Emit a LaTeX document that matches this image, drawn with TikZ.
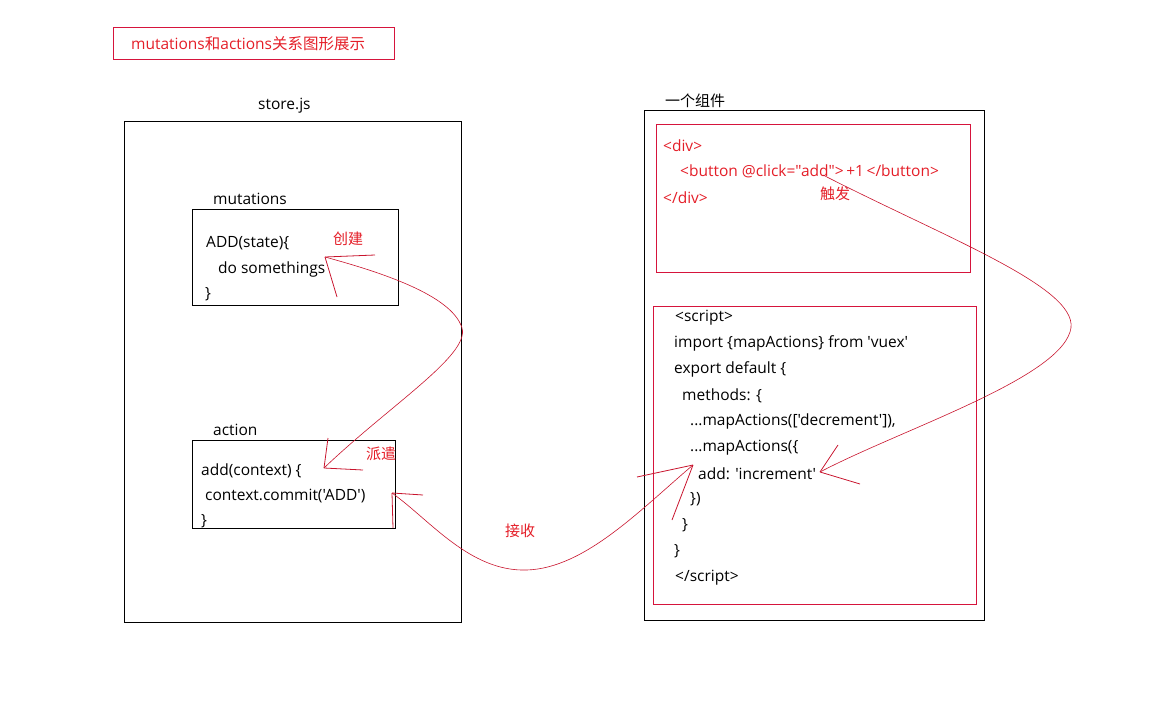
\documentclass[tikz,border=0pt]{standalone}
\usepackage{fontspec}
\newfontfamily\latin{Open Sans}
\newfontfamily\cjk{Noto Sans CJK SC}
\definecolor{txtred}{RGB}{228,30,40}
\definecolor{boxred}{RGB}{214,20,60}
\definecolor{linered}{RGB}{200,20,45}
\begin{document}
\begin{tikzpicture}[x=1pt,y=-1pt,
  txt/.style={anchor=west,inner sep=0pt,yshift=-1.5pt,font=\latin\fontsize{15.5}{18}\selectfont,text=black},
  rtxt/.style={txt,text=txtred},
  ctxt/.style={anchor=west,inner sep=0pt,yshift=-1pt,font=\cjk\fontsize{15}{18}\selectfont,text=txtred},
  blackbox/.style={draw=black,line width=0.8pt},
  redbox/.style={draw=boxred,line width=0.8pt},
  curve/.style={draw=linered,line width=0.6pt},
  tipline/.style={draw=linered,line width=0.8pt}]
\useasboundingbox (0,0) rectangle (1152,720);
% title
\draw[redbox] (113,27) rectangle (394,59);
\node[rtxt] (title) at (131,42) {mutations{\cjk 和}actions{\cjk 关系图形展示}};
% left store box
\node[txt] (store) at (258,104) {store.js};
\draw[blackbox] (124,121) rectangle (461,622);
\node[txt] (mutl) at (213,197) {mutations};
\draw[blackbox] (192,209) rectangle (398,305);
\node[txt] (m1) at (206,242) {ADD(state)\{};
\node[txt] (m2) at (218,268) {do somethings};
\node[txt] (m3) at (205,293) {\}};
\node[ctxt] (chuangjian) at (333,238) {创建};
\node[txt] (actl) at (213,428) {action};
\draw[blackbox] (192,440) rectangle (395,528);
\node[txt] (a1) at (201,469) {add(context) \{};
\node[txt] (a2) at (205,495) {context.commit('ADD')};
\node[txt] (a3) at (201,520) {\}};
\node[ctxt] (paiqian) at (366,453) {派遣};
\node[ctxt] (jieshou) at (505,530) {接收};
% right component box
\node[ctxt,text=black] (comp) at (665,100) {一个组件};
\draw[blackbox] (644,110) rectangle (984,620);
\draw[redbox] (656,124) rectangle (970,272);
\node[rtxt] (d1) at (663,144) {<div>};
\node[rtxt] (d2) at (680,170) {<button @click="add">\,+1\,</button>};
\node[rtxt] (d3) at (663,196) {</div>};
\node[ctxt] (chufa) at (820,193) {触发};
\draw[redbox] (653,306) rectangle (976,604);
\node[txt] (s1) at (675,316) {<script>};
\node[txt] (s2) at (674,342) {import \{mapActions\} from 'vuex'};
\node[txt] (s3) at (674,368) {export default \{};
\node[txt] (s4) at (682,394) {methods: \{};
\node[txt] (s5) at (690,420) {...mapActions(['decrement']),};
\node[txt] (s6) at (690,446) {...mapActions(\{};
\node[txt] (s7) at (698,472) {add: 'increment'};
\node[txt] (s8) at (690,498) {\})};
\node[txt] (s9) at (682,524) {\}};
\node[txt] (s10) at (674,550) {\}};
\node[txt] (s11) at (675,576) {</script>};
% arrow tips (hand drawn)
\coordinate (tipM) at (325,257);
\coordinate (tipA) at (324,468);
\coordinate (tipC) at (392,493);
\coordinate (tipS) at (693,465);
\coordinate (tipI) at (820,472);
\coordinate (tipB) at (823,175);
% curve 1: action -> mutation
\draw[curve] (tipA) .. controls (390,405) and (470,355) .. (462,328)
  .. controls (452,295) and (380,272) .. (tipM);
\draw[tipline] (tipM) -- (350,256) -- (375,255);
\draw[tipline] (tipM) -- (337,297);
\draw[tipline] (tipA) -- (363,470);
\draw[tipline] (tipA) -- (328,438);
% curve 2: commit <-> component
\draw[curve] (tipC) .. controls (430,520) and (470,572) .. (527,570)
  .. controls (585,568) and (640,510) .. (tipS);
\draw[tipline] (tipC) -- (423,495);
\draw[tipline] (tipC) -- (393,528);
\draw[tipline] (tipS) -- (637,477);
\draw[tipline] (tipS) -- (672,520);
% curve 3: button -> increment
\draw[curve] (tipB) .. controls (950,240) and (1085,290) .. (1070,332)
  .. controls (1055,380) and (900,430) .. (tipI);
\draw[tipline] (tipI) -- (838,445);
\draw[tipline] (tipI) -- (860,484);
\end{tikzpicture}
\end{document}
